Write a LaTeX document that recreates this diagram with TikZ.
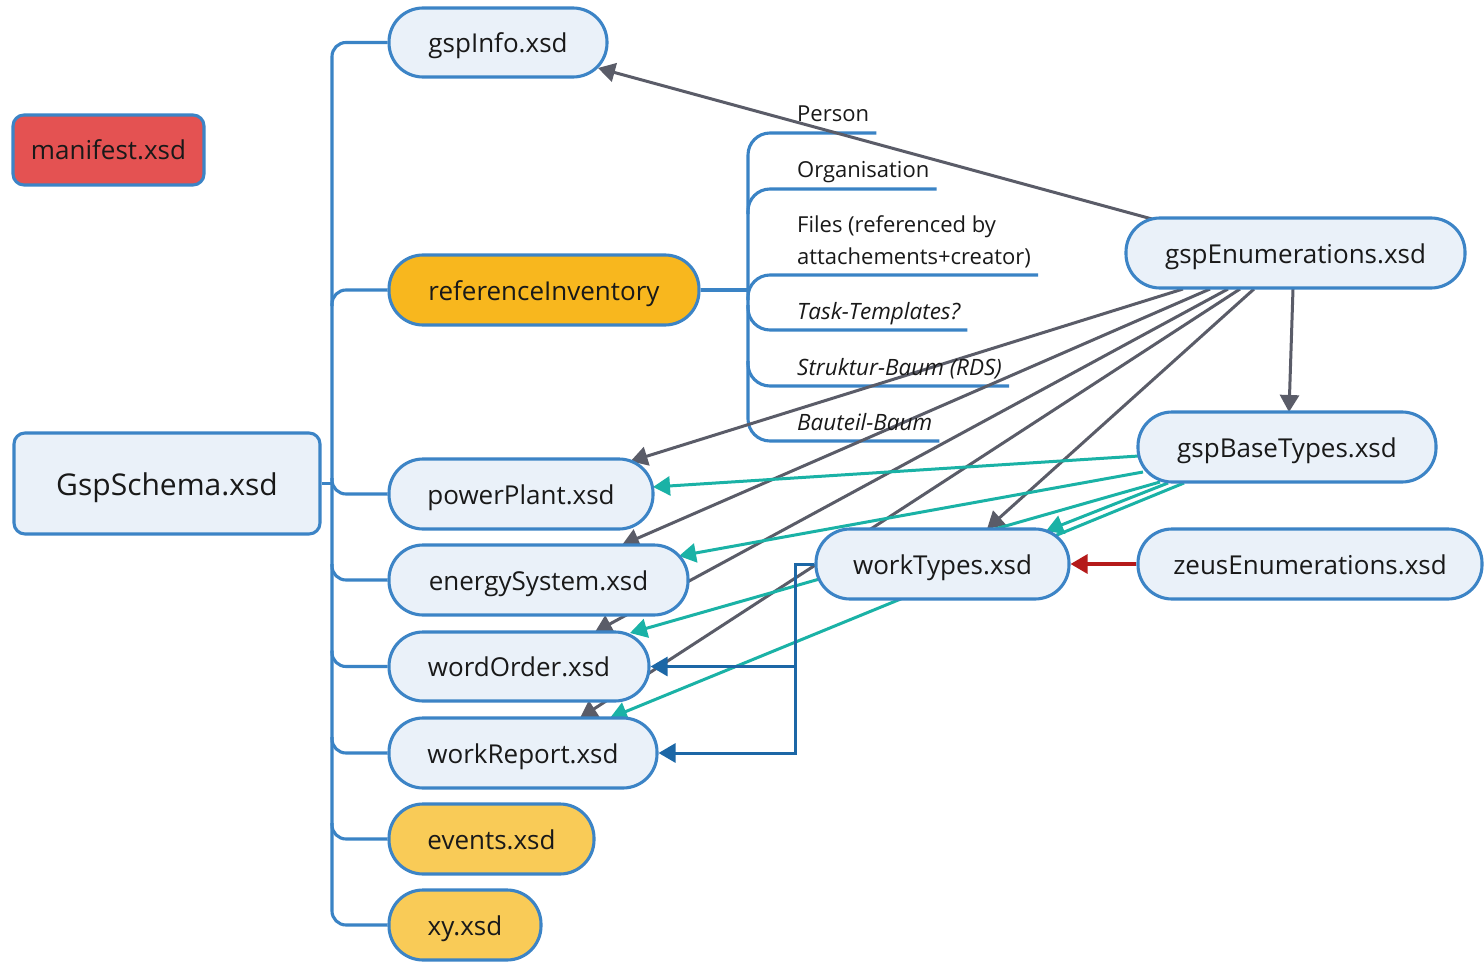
\documentclass[tikz,border=0pt]{standalone}
\usepackage{fontspec}
\setmainfont{Open Sans}
\usetikzlibrary{arrows.meta,calc,backgrounds}
\definecolor{nfill}{RGB}{234,241,249}
\definecolor{nborder}{RGB}{60,132,198}
\definecolor{treeblue}{RGB}{58,131,197}
\definecolor{mred}{RGB}{228,82,82}
\definecolor{orng}{RGB}{248,183,30}
\definecolor{ylw}{RGB}{249,203,87}
\definecolor{gline}{RGB}{90,92,104}
\definecolor{tline}{RGB}{26,178,166}
\definecolor{bline}{RGB}{28,103,166}
\definecolor{rline}{RGB}{181,26,26}
\begin{document}
\begin{tikzpicture}[x=1pt,y=-1pt,
  box/.style={draw=nborder, line width=3.1pt, fill=nfill, minimum height=70pt, inner sep=0pt,
    text=black!90, font=\fontsize{26}{30}\selectfont, text height=20pt, text depth=0pt, rounded corners=34pt},
  sqbox/.style={box, rounded corners=11pt},
  lbl/.style={inner sep=0pt, anchor=base west, text=black!90, font=\fontsize{22}{31}\selectfont},
  ilbl/.style={lbl, font=\fontsize{22.5}{31}\selectfont\itshape},
  tree/.style={draw=treeblue, line width=3.1pt},
  tip/.style={-{Triangle[length=17pt,width=19pt]}},
  garr/.style={tip, draw=gline, line width=3pt},
  tarr/.style={tip, draw=tline, line width=3pt},
  barr/.style={tip, draw=bline, line width=3pt},
  rarr/.style={tip, draw=rline, line width=3.2pt}]
\useasboundingbox (0,0) rectangle (1484,963);

% nodes
\node[sqbox, fill=mred, minimum width=191pt] (man) at (108.5,150) {manifest.xsd};
\node[sqbox, minimum width=306pt, minimum height=101pt, font=\fontsize{30}{34}\selectfont, text height=23pt] (gs) at (167,483.5) {GspSchema.xsd};
\node[box, minimum width=218pt, minimum height=69pt] (info) at (498,42.5) {gspInfo.xsd};
\node[box, fill=orng, minimum width=310pt] (ri) at (544,290) {referenceInventory};
\node[box, minimum width=264pt] (pp) at (521,494) {powerPlant.xsd};
\node[box, minimum width=299pt] (es) at (538.5,580) {energySystem.xsd};
\node[box, minimum width=260pt, minimum height=69pt] (wo) at (519,666.5) {wordOrder.xsd};
\node[box, minimum width=268pt] (wr) at (523,753) {workReport.xsd};
\node[box, fill=ylw, minimum width=205pt] (ev) at (491.5,839) {events.xsd};
\node[box, fill=ylw, minimum width=152pt] (xy) at (465,925) {xy.xsd};
\node[box, minimum width=339pt] (enum) at (1295.5,253) {gspEnumerations.xsd};
\node[box, minimum width=298pt] (base) at (1287,447) {gspBaseTypes.xsd};
\node[box, minimum width=253pt] (wt) at (942.5,564) {workTypes.xsd};
\node[box, minimum width=344pt] (zeus) at (1310,564) {zeusEnumerations.xsd};

% labels of referenceInventory
\node[lbl] (pers) at (797,122) {Person};
\node[lbl] (org) at (797,178) {Organisation};
\node[lbl] (files1) at (797,233) {Files (referenced by};
\node[lbl] (files) at (797,264) {attachements+creator)};
\node[ilbl] (task) at (797,319) {Task-Templates?};
\node[ilbl] (strk) at (797,375) {Struktur-Baum (RDS)};
\node[ilbl] (baut) at (797,430) {Bauteil-Baum};

\coordinate (trunk) at (332,483.5);
\coordinate (sub) at (748,290);
\coordinate (elb) at ($(wt.west)+(-19,0)$);

\begin{scope}[on background layer]
\fill[white] (0,0) rectangle (1484,963);
% main tree
\draw[tree, rounded corners=14pt] (info.west) -| (trunk) |- (xy.west);
\draw[tree] (gs.east) -- (trunk);
\draw[tree, rounded corners=14pt] ($(trunk |- ri.west)+(0,16)$) |- (ri.west);
\foreach \n in {pp,es,wo,wr,ev}
  \draw[tree, rounded corners=14pt] ($(trunk |- \n.west)+(0,-16)$) |- (\n.west);
% sub tree
\draw[tree] (ri.east) -- (sub);
\draw[tree, rounded corners=22pt] ([shift={(7,11)}]pers.base east) -| (sub) |- ([shift={(7,11)}]baut.base east);
\draw[tree, rounded corners=22pt] ($(sub |- org.base)+(0,36)$) |- ([shift={(7,11)}]org.base east);
\draw[tree, rounded corners=22pt] ($(sub |- files.base)+(0,36)$) |- ([shift={(7,11)}]files.base east);
\draw[tree, rounded corners=22pt] ($(sub |- task.base)+(0,-14)$) |- ([shift={(7,11)}]task.base east);
\draw[tree, rounded corners=22pt] ($(sub |- strk.base)+(0,-14)$) |- ([shift={(7,11)}]strk.base east);

% gray arrows from gspEnumerations
\draw[garr] ($(enum.center)+(-143.5,-34)$) -- ($(info.center)+(100,25.5)$);
\draw[garr] ($(enum.center)+(-112.5,36)$) -- ($(pp.center)+(109.5,-32.7)$);
\draw[garr] ($(enum.center)+(-85.5,36)$) -- ($(es.center)+(83.5,-35)$);
\draw[garr] ($(enum.center)+(-67.5,36)$) -- ($(wo.center)+(76,-34.5)$);
\draw[garr] ($(enum.center)+(-55.5,36)$) -- ($(wr.center)+(57,-35)$);
\draw[garr] ($(enum.center)+(-41.5,36)$) -- ($(wt.center)+(44.5,-35)$);
\draw[garr] ($(enum.center)+(-2.5,36)$) -- ($(base.center)+(2,-35)$);

% teal arrows from gspBaseTypes
\draw[tarr] ($(base.center)+(-148,9)$) -- ($(pp.center)+(132,-7)$);
\draw[tarr] ($(base.center)+(-144,25)$) -- ($(es.center)+(140.5,-24)$);
\draw[tarr] ($(base.center)+(-127,35)$) -- ($(wo.center)+(111,-33.5)$);
\draw[tarr] ($(base.center)+(-119,36)$) -- ($(wt.center)+(103.5,-33)$);
\draw[tarr] ($(base.center)+(-103,36)$) -- ($(wr.center)+(87,-35)$);

% blue elbow from workTypes
\draw[barr] (wt.west) -- (elb) |- (wr.east);
\draw[barr] (elb |- wo.east) -- (wo.east);

% red arrow
\draw[rarr] (zeus.west) -- (wt.east);
\end{scope}
\end{tikzpicture}
\end{document}
